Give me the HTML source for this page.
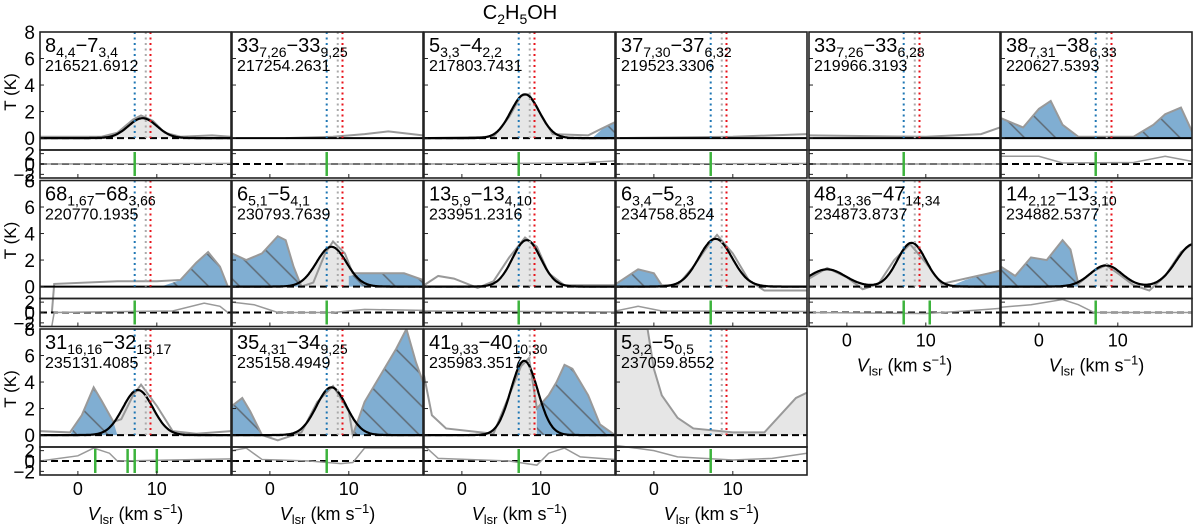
<!DOCTYPE html>
<html><head><meta charset="utf-8"><style>
body{margin:0;background:#fff;}
svg{display:block;font-family:"Liberation Sans","DejaVu Sans",sans-serif;}
</style></head><body>
<svg id="fig" width="1200" height="524" viewBox="0 0 1200 524" xmlns="http://www.w3.org/2000/svg">
<defs>
<pattern id="hatch" patternUnits="userSpaceOnUse" width="22" height="22" patternTransform="rotate(45)">
<rect width="22" height="22" fill="#80aed2"/>
<line x1="0" y1="11" x2="22" y2="11" stroke="#5f6a74" stroke-width="1.4"/>
</pattern>
</defs>
<text x="520" y="19" font-size="20" text-anchor="middle">C<tspan font-size="14" dy="5">2</tspan><tspan dy="-5">H</tspan><tspan font-size="14" dy="5">5</tspan><tspan dy="-5">OH</tspan></text>
</svg>
<script>
// ---- data arrays ----
const transitions = [
 ["8","4,4","7","3,4"],["33","7,26","33","9,25"],["5","3,3","4","2,2"],["37","7,30","37","6,32"],["33","7,26","33","6,28"],["38","7,31","38","6,33"],
 ["68","1,67","68","3,66"],["6","5,1","5","4,1"],["13","5,9","13","4,10"],["6","3,4","5","2,3"],["48","13,36","47","14,34"],["14","2,12","13","3,10"],
 ["31","16,16","32","15,17"],["35","4,31","34","9,25"],["41","9,33","40","10,30"],["5","3,2","5","0,5"]
];
const frequencies = ["216521.6912","217254.2631","217803.7431","219523.3306","219966.3193","220627.5393",
 "220770.1935","230793.7639","233951.2316","234758.8524","234873.8737","234882.5377",
 "235131.4085","235158.4949","235983.3517","237059.8552"];
// gaussian fits: [amp, center, sigma]
const fits = [
 [[1.5,8.2,1.8]],[],[[3.3,8.0,1.8]],[],[],[],
 [],[[3.0,7.8,1.9]],[[3.5,8.2,1.8]],[[3.6,7.8,2.1]],[[1.3,-2.5,2.3],[3.3,8.2,1.8]],[[1.6,8.5,2.0],[3.2,19.6,2.2]],
 [[3.4,7.6,1.9]],[[3.6,7.8,1.9]],[[5.6,7.9,1.7]],[]
];
// observed spectrum key points [v, T]
const spectra = [
 [[-4.8,0.1],[3,0.1],[5,0.4],[7,1.4],[8,1.7],[9.5,1.3],[11,0.4],[13,0.1],[17,0.2],[19.4,0.1]],
 [[2,0],[8,0.1],[12,0.3],[15,0.5],[19.4,0.2]],
 [[-4.8,0],[4,0.1],[6,1.6],[7.5,3.2],[8.5,3.3],[10,1.8],[11.5,0.3],[16,0.2],[18,0.8],[19.4,1.2]],
 [[-4.8,0],[10,0.1],[19.4,0.3]],
 [[-4.8,0.2],[10,0.1],[17,0.3],[19.4,0.8]],
 [[-4.8,1.5],[-2,0.8],[0,2.2],[1.5,2.8],[3,1],[5,0.1],[12,0.1],[14.5,1.0],[16,1.8],[18,2.3],[19.4,0.5]],
 [[-3.3,-2],[-3,0.2],[5,0.4],[10,0.4],[13,0.5],[15,1.8],[16.5,2.6],[18,1.5],[19,0]],
 [[-4.8,2.5],[-3,2],[-1,2.5],[1,3.8],[2,3.5],[3,1.5],[4,0],[5.5,0.3],[7,2.5],[8,3.4],[9.5,2.5],[10.5,1.0],[12,1.0],[17,1.0],[19.4,0.5]],
 [[-4.8,0.1],[-3,0.8],[-1,0.6],[2,-0.1],[4,0.4],[6,2.2],[8,3.7],[9.5,3.0],[11,1.0],[13,0.1],[19.4,0.1]],
 [[-4.8,0.2],[-2,1.3],[0,1],[1,0.1],[3,0.1],[5,1.5],[7,3.2],[8,3.9],[10,2.5],[12,0.5],[14,-0.3],[19.4,-0.3]],
 [[-4.8,0.6],[-2.5,1.4],[0,0.7],[2,-0.2],[4,0.2],[6,2.0],[8,3.2],[10,1.8],[12,0.2],[15,0.6],[18,1.0],[19.4,1.2]],
 [[-4.8,1.5],[-3,0.8],[-1,2.2],[1,2],[3,3.5],[4,2.8],[5,0.2],[7,1.2],[8.5,1.6],[10,1.0],[12,0.1],[14,-0.3],[16,0.8],[18,2.6],[19.4,3.2]],
 [[-4.8,0.3],[-1,0.2],[0.5,1.5],[2,3.6],[3,2.6],[4.5,1],[5.5,1.2],[7,3.0],[8,3.8],[10,2.2],[12,0.3],[15,0.1],[19.4,0.3]],
 [[-4.8,2.2],[-3.5,2.8],[-2.5,1.8],[-1,0],[1,-0.4],[4,0.2],[6,2.5],[8,3.7],[10,1.8],[10.5,0],[12,2.5],[14,4.5],[16,6.5],[17.3,8],[18.5,5.5],[19.4,4]],
 [[-4.8,4.5],[-3.8,1.5],[-2,0.5],[4,0.1],[6,3.0],[7.5,5.2],[8.5,5.8],[9.5,2.0],[11,3],[12,4],[13,5.3],[14,5],[16,3],[17.5,0.8],[19.4,0]],
 [[-4.8,8],[-0.8,8],[0,5],[1,3],[3,1.3],[5,0.5],[10,0.2],[14,0.2],[16,1.5],[18,2.8],[19.4,3.2]]
];
// blended (blue, hatched) components
const blends = [
 [],[],[[[16.5,0],[18,0.8],[19.4,1.2],[19.4,0]]],[],[],
 [[[-4.8,0],[-4.8,1.5],[-2,0.8],[0,2.2],[1.5,2.8],[3,1],[5,0]],[[12,0],[14.5,1.0],[16,1.8],[18,2.3],[19.4,0.5],[19.4,0]]],
 [[[10.5,0],[13,0.5],[15,1.8],[16.5,2.6],[18,1.5],[19,0]]],
 [[[-4.8,0],[-4.8,2.5],[-3,2],[-1,2.5],[1,3.8],[2,3.5],[3,1.5],[4,0]],[[10,0],[10,0.8],[12,1.0],[17,1.0],[19.4,0.5],[19.4,0]]],
 [],
 [[[-4.8,0],[-4.8,0.2],[-2,1.3],[0,1],[1,0]]],
 [[[13,0],[15,0.5],[18,1],[19.4,1.2],[19.4,0]]],
 [[[-4.8,0],[-4.8,1.5],[-3,0.8],[-1,2.2],[1,2],[3,3.5],[4,2.8],[5,0]]],
 [[[-1,0],[0.5,1.5],[2,3.6],[3,2.6],[4.5,1],[5,0]]],
 [[[-4.8,0],[-4.8,2.2],[-3.5,2.8],[-2.5,1.8],[-1,0]],[[10.5,0],[12,2.5],[14,4.5],[16,6.5],[17.3,8],[18.5,5.5],[19.4,4],[19.4,0]]],
 [[[9.5,0],[9.5,2.0],[11,3],[12,4],[13,5.3],[14,5],[16,3],[17.5,0.8],[19.4,0]]],
 []
];
// residual key points [v, T]
const residuals = [
 [[-4.8,0],[19.4,0.1]],[[2,0],[19.4,0]],[[-4.8,0],[15,0.2],[19.4,0.6]],[[-4.8,0],[19.4,0.1]],[[-4.8,0],[19.4,0]],
 [[-4.8,1.5],[0,1.5],[3,0.2],[12,0.3],[16,1.5],[19.4,0.5]],
 [[-3.3,-2.6],[-3,0],[12,0.3],[16,1.8],[18,1.2],[19,0]],
 [[-4.8,2],[-2,1.5],[1,0],[8,0],[12,0.6],[19.4,0.4]],
 [[-4.8,0.3],[19.4,0.1]],[[-4.8,0.3],[-2,1.2],[1,0.3],[19.4,0.2]],[[-4.8,0],[10,-0.2],[15,0.3],[19.4,0.8]],
 [[-4.8,1],[-1,1.5],[3,2.5],[5,1.5],[7,0],[19.4,0]],
 [[-4.8,0],[0,1],[2,2.5],[4,1.5],[5,0],[19.4,0.4]],
 [[-4.8,2],[-3,2.5],[-1,0.3],[5,0],[9,-0.5],[10.5,-0.3],[12,2.5],[19.4,2.5]],
 [[-4.8,3],[-3,0.5],[6,0],[9.5,-0.8],[11,1.5],[13,2.5],[15,0.8],[19.4,0.3]],
 [[-4.8,3],[0,2],[3,0.8],[10,0.2],[15,0.5],[19.4,1.5]]
];
const greenMarks = [[7.2],[7.2],[7.2],[7.2],[7.2],[7.2],[7.2],[7.2],[7.2],[7.2],[7.2,10.5],[7.2],[2.2,6.3,7.2,10],[7.2],[7.2],[7.2]];
const markerLines = [7.2, 8.6, 9.2];
const mainTicks = [0,2,4,6,8];
const resTicks = [2,0,-2];
const xTicks = [0,10];

// ---- layout ----
const NS="http://www.w3.org/2000/svg";
const svg=document.getElementById('fig');
const colX=[40,232,424,616,809,1001], PW=191;
const rowY=[32,180.5,329], MH=118, RH=28;
const VMIN=-4.8, VMAX=19.4, YMIN=-0.9, YMAX=8.0, RMIN=-2.7, RMAX=2.7;
function mk(tag,attrs,parent){const e=document.createElementNS(NS,tag);for(const k in attrs)e.setAttribute(k,attrs[k]);(parent||svg).appendChild(e);return e;}
function gauss(v,fs){let s=0;for(const f of fs)s+=f[0]*Math.exp(-0.5*((v-f[1])/f[2])**2);return s;}

transitions.forEach((tr,i)=>{
 const r=Math.floor(i/6), c=i%6;
 const L=colX[c], T=rowY[r];
 const xs=v=>L+(v-VMIN)/(VMAX-VMIN)*PW;
 const ys=t=>T+(YMAX-t)/(YMAX-YMIN)*MH;
 const RT=T+MH;
 const yr=t=>RT+(RMAX-t)/(RMAX-RMIN)*RH;
 const g=mk('g',{});
 
 
 const cid='clip'+i;
 const cp=mk('clipPath',{id:cid},g); mk('rect',{x:L,y:T,width:PW,height:MH+RH},cp);
 const inner=mk('g',{'clip-path':'url(#'+cid+')'},g);
 const fs=fits[i];
 if(fs.length){
  let d='M'+xs(VMIN)+','+ys(0);
  for(let v=VMIN;v<=VMAX+0.01;v+=0.1)d+=' L'+xs(v).toFixed(1)+','+ys(gauss(v,fs)).toFixed(1);
  d+=' L'+xs(VMAX)+','+ys(0)+'Z';
  const f=mk('path',{d:d,fill:'#e6e6e6'},inner);
  
  
 }
 if(i===15){
  const sp=spectra[i];
  let d='M'+xs(sp[0][0])+','+ys(0)+sp.map(p=>' L'+xs(p[0])+','+ys(p[1])).join('')+' L'+xs(sp[sp.length-1][0])+','+ys(0)+'Z';
  const f=mk('path',{d:d,fill:'#e6e6e6'},inner);
  
  
 }
 blends[i].forEach(b=>{
  const p=mk('polygon',{points:b.map(q=>xs(q[0])+','+ys(q[1])).join(' '),fill:'url(#hatch)'},inner);
  
  
 });
 const sp=mk('polyline',{points:spectra[i].map(q=>xs(q[0])+','+ys(q[1])).join(' '),fill:'none',stroke:'#999',"stroke-width":2},inner);
 
 
 if(fs.length||i===15){
  const b=mk('line',{x1:L,x2:L+PW,y1:ys(0),y2:ys(0),stroke:'#000','stroke-width':2,'stroke-dasharray':'7,4'},inner);
  
  
 } else {
  const b=mk('line',{x1:L,x2:L+PW,y1:ys(0),y2:ys(0),stroke:'#000','stroke-width':2},inner);
  
  
 }
 if(fs.length){
  let d='';
  for(let v=VMIN;v<=VMAX+0.01;v+=0.1)d+=(d?' L':'M')+xs(v).toFixed(1)+','+ys(gauss(v,fs)).toFixed(1);
  const f=mk('path',{d:d,fill:'none',stroke:'#000','stroke-width':2.2},inner);
  
  
 }
 const cols=['#1f77b4','#aaaaaa','#e8141c'];
 markerLines.forEach((v,k)=>{
  const m=mk('line',{x1:xs(v),x2:xs(v),y1:T,y2:ys(0),stroke:cols[k],'stroke-width':2,'stroke-dasharray':'2,3.5'},inner);
  
  
 });
 const rd=mk('line',{x1:L,x2:L+PW,y1:yr(0),y2:yr(0),stroke:'#000','stroke-width':2,'stroke-dasharray':'7,4'},inner);
 
 
 const rs=mk('polyline',{points:residuals[i].map(q=>xs(q[0])+','+yr(q[1])).join(' '),fill:'none',stroke:'#999','stroke-width':1.5},inner);
 
 
 greenMarks[i].forEach(v=>{
  const gm=mk('line',{x1:xs(v),x2:xs(v),y1:RT+2,y2:RT+RH-2,stroke:'#3cb33c','stroke-width':2.5},inner);
  
  
 });
 const f1=mk('rect',{x:L,y:T,width:PW,height:MH,fill:'none',stroke:'#222','stroke-width':1.6},g);
 
 
 const f2=mk('rect',{x:L,y:RT,width:PW,height:RH,fill:'none',stroke:'#222','stroke-width':1.6},g);
 
 
 mainTicks.forEach(t=>{mk('line',{x1:L,x2:L+4,y1:ys(t),y2:ys(t),stroke:'#222','stroke-width':1},g);});
 resTicks.forEach(t=>{mk('line',{x1:L,x2:L+4,y1:yr(t),y2:yr(t),stroke:'#222','stroke-width':1},g);});
 xTicks.forEach(t=>{mk('line',{x1:xs(t),x2:xs(t),y1:RT+RH,y2:RT+RH-4,stroke:'#222','stroke-width':1},g);});
 if(c===0){
  mainTicks.forEach(t=>{
   const tx=mk('text',{x:L-5,y:ys(t)+7,'font-size':19,'text-anchor':'end'},g);tx.textContent=t;
   
   
  });
  resTicks.forEach(t=>{
   const tx=mk('text',{x:L-5,y:yr(t)+7,'font-size':19,'text-anchor':'end'},g);tx.textContent=t<0?'\u2212'+(-t):t;
   
   
  });
  const yl=mk('text',{x:0,y:0,'font-size':17,'text-anchor':'middle',transform:'translate(16,'+(T+60)+') rotate(-90)'},g);
  yl.textContent='T (K)';
  
  
 }
 if(r===2||(r===1&&c>=4)){
  xTicks.forEach(t=>{
   const tx=mk('text',{x:xs(t),y:RT+RH+20,'font-size':18,'text-anchor':'middle'},g);tx.textContent=t;
   
   
  });
  const xl=mk('text',{x:L+PW/2,y:RT+RH+45,'font-size':18,'text-anchor':'middle'},g);
  xl.innerHTML='<tspan font-style="italic">V</tspan><tspan font-size="13" dy="4">lsr</tspan><tspan dy="-4"> (km s</tspan><tspan font-size="13" dy="-7">\u22121</tspan><tspan dy="7">)</tspan>';
  
  
 }
 const lb=mk('text',{x:L+5,y:T+20,'font-size':20},g);
 lb.innerHTML=tr[0]+'<tspan font-size="14" dy="5">'+tr[1]+'</tspan><tspan dy="-5">\u2212'+tr[2]+'</tspan><tspan font-size="14" dy="5">'+tr[3]+'</tspan>';
 
 
 const fq=mk('text',{x:L+5,y:T+39,'font-size':16},g);
 fq.textContent=frequencies[i];
 
 
});
</script>
</body></html>
